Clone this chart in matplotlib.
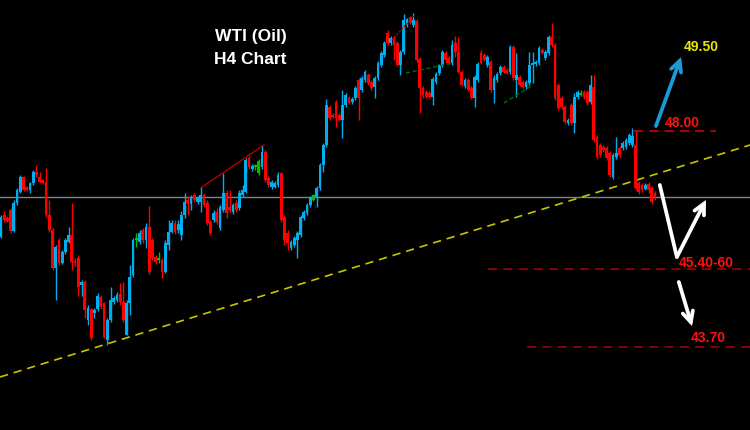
import matplotlib
matplotlib.use("Agg")
import matplotlib.pyplot as plt
import numpy as np

# ---- data (H4 candles) ----
opens = [45.88,46.32,46.26,46.42,46.00,46.56,46.78,47.08,46.88,46.82,
 46.96,47.18,47.08,47.02,46.98,46.32,46.02,45.26,45.82,45.36,
 45.58,45.78,45.92,45.40,45.46,44.92,44.98,44.22,44.44,44.36,
 44.44,44.68,44.56,43.82,44.22,44.58,44.62,44.74,44.58,43.92,
 44.56,45.12,45.82,45.78,46.02,45.82,46.08,45.82,45.48,45.42,
 45.42,45.18,45.72,45.98,46.16,46.02,45.92,46.32,46.62,46.54,
 46.72,46.58,46.58,46.72,46.56,46.18,46.22,46.38,46.06,46.42,
 46.76,46.48,46.38,46.56,46.46,46.72,46.78,47.46,47.24,47.28,
 47.16,47.28,47.58,47.06,46.88,46.88,46.92,47.16,46.28,45.96,
 45.66,45.72,45.82,45.92,46.26,46.36,46.52,46.62,46.66,46.86,
 47.32,47.72,48.48,48.32,48.58,48.32,48.22,48.52,48.66,48.58,
 48.66,49.02,48.82,49.02,49.12,48.98,48.88,49.06,49.32,49.52,
 49.96,49.76,49.86,49.76,49.32,49.58,50.12,50.28,50.12,50.20,
 49.44,48.86,48.78,48.76,48.68,48.98,49.16,49.32,49.56,49.46,
 49.36,49.76,49.58,49.18,48.90,49.02,48.86,48.66,49.02,49.56,
 49.52,49.32,49.38,48.82,49.02,49.16,49.28,49.22,49.18,49.68,
 49.02,49.08,48.98,48.88,48.96,49.32,49.34,49.36,49.62,49.46,
 49.56,49.88,49.72,48.92,48.66,48.48,48.16,48.52,48.16,48.68,
 48.72,48.78,48.78,48.58,48.88,47.88,47.72,47.68,47.66,47.56,
 47.08,47.48,47.66,47.66,47.68,47.76,47.72,47.72,46.96,46.92,
 46.84,46.94,46.86,46.76]

highs = [46.32,46.40,46.30,46.46,46.62,46.86,47.12,47.10,46.90,46.98,
 47.22,47.32,47.18,47.04,47.26,46.62,46.06,45.72,45.86,45.62,
 45.86,46.08,46.56,45.46,45.52,45.02,45.02,44.52,44.46,44.46,
 44.76,44.72,44.58,44.26,44.88,44.70,44.78,44.96,44.98,44.62,
 45.32,45.86,45.96,46.02,46.06,46.16,46.50,45.86,45.52,45.58,
 45.46,45.82,46.22,46.22,46.22,46.22,46.40,46.76,46.70,46.72,
 46.76,46.70,46.88,46.76,46.62,46.22,46.42,46.46,46.52,47.16,
 46.82,46.82,46.56,46.62,46.82,46.92,47.46,47.50,47.34,47.34,
 47.44,47.72,47.62,47.10,47.02,47.00,47.18,47.18,46.32,46.02,
 45.82,45.90,46.00,46.32,46.42,46.56,46.70,46.74,46.90,47.36,
 47.76,48.64,48.52,48.36,48.62,48.36,48.82,48.76,48.70,48.68,
 48.90,49.06,49.10,49.22,49.16,49.02,49.10,49.40,49.60,49.80,
 50.02,49.90,49.90,49.80,49.62,50.34,50.26,50.30,50.36,50.24,
 49.48,48.90,48.82,48.80,49.08,49.18,49.34,49.62,49.60,49.50,
 49.82,49.90,49.88,49.22,49.06,49.06,48.90,49.12,49.38,49.62,
 49.56,49.52,49.42,49.12,49.18,49.32,49.32,49.26,49.72,49.72,
 49.56,49.12,49.02,49.02,49.58,49.58,49.42,49.70,49.66,49.62,
 49.92,50.16,49.76,48.96,48.70,48.52,48.26,48.56,48.76,48.82,
 48.82,48.82,48.82,49.12,49.12,47.92,47.76,47.72,47.70,47.60,
 47.56,47.88,47.70,47.80,47.86,47.96,48.06,48.00,47.00,46.96,
 46.96,46.98,46.90,46.80]

lows = [45.86,46.18,46.18,45.96,45.98,46.52,46.76,46.80,46.80,46.76,
 46.92,47.08,46.96,46.94,46.28,45.98,45.22,44.62,45.32,45.34,
 45.54,45.76,45.22,45.30,44.70,44.70,44.26,44.12,43.82,44.26,
 44.40,44.44,43.86,43.72,44.18,44.54,44.58,44.52,44.18,43.92,
 44.32,45.08,45.68,45.74,45.76,45.66,45.14,45.42,45.34,45.36,
 45.06,45.16,45.62,45.96,45.94,45.96,45.82,46.26,46.32,46.42,
 46.58,46.54,46.38,46.48,46.12,45.92,46.18,46.14,46.02,46.38,
 46.26,46.38,46.34,46.38,46.42,46.68,46.76,47.24,47.20,47.22,
 47.12,47.24,46.98,46.88,46.84,46.86,46.88,46.18,45.72,45.62,
 45.62,45.68,45.46,45.88,46.22,46.32,46.48,46.60,46.48,46.82,
 47.18,47.68,48.22,48.26,48.08,48.20,47.86,48.48,48.54,48.54,
 48.62,48.22,48.78,48.98,48.92,48.82,48.66,49.02,49.28,49.48,
 49.72,49.72,49.42,49.30,49.12,49.54,50.08,50.14,50.08,49.38,
 48.36,48.66,48.66,48.66,48.52,48.94,49.12,49.28,49.36,49.34,
 49.32,49.48,49.16,48.90,48.86,48.80,48.64,48.48,48.98,49.34,
 49.40,49.28,48.78,48.56,48.98,49.12,49.16,49.14,49.14,49.02,
 48.68,48.90,48.86,48.84,48.92,48.96,49.30,49.32,49.54,49.42,
 49.52,49.68,48.62,48.42,48.44,48.14,48.12,48.12,47.96,48.64,
 48.70,48.64,48.52,48.54,47.78,47.44,47.48,47.58,47.42,47.08,
 47.04,47.44,47.48,47.62,47.64,47.72,47.68,46.82,46.74,46.78,
 46.82,46.76,46.54,46.62]

closes = [46.28,46.22,46.20,46.00,46.56,46.82,47.08,46.82,46.82,46.96,
 47.18,47.12,46.98,46.96,46.32,46.02,45.26,45.68,45.36,45.58,
 45.82,45.92,45.38,45.36,44.88,44.98,44.42,44.46,43.86,44.42,
 44.70,44.48,43.88,44.22,44.62,44.66,44.72,44.58,44.22,44.56,
 45.08,45.82,45.82,45.96,45.82,46.08,45.18,45.46,45.38,45.42,
 45.18,45.76,45.98,46.16,45.98,46.14,46.32,46.58,46.56,46.66,
 46.62,46.66,46.72,46.52,46.16,45.96,46.36,46.18,46.48,46.76,
 46.36,46.42,46.52,46.42,46.76,46.82,47.42,47.28,47.30,47.28,
 47.40,47.58,47.02,46.92,46.98,46.96,47.12,46.22,45.82,45.76,
 45.78,45.86,45.96,46.28,46.38,46.52,46.66,46.72,46.86,47.32,
 47.72,48.52,48.26,48.28,48.26,48.22,48.52,48.72,48.56,48.64,
 48.86,48.66,49.06,49.18,48.96,48.86,49.06,49.36,49.56,49.76,
 49.76,49.86,49.72,49.32,49.58,50.22,50.24,50.16,50.22,49.42,
 48.86,48.72,48.68,48.68,49.04,49.14,49.32,49.58,49.42,49.36,
 49.72,49.58,49.18,48.92,49.02,48.82,48.66,49.08,49.34,49.36,
 49.42,49.48,48.82,49.06,49.14,49.28,49.18,49.16,49.68,49.06,
 49.12,48.92,48.88,48.98,49.32,49.36,49.38,49.66,49.56,49.58,
 49.88,49.72,48.66,48.46,48.48,48.18,48.22,48.16,48.68,48.78,
 48.76,48.68,48.56,48.92,47.82,47.48,47.52,47.62,47.46,47.12,
 47.52,47.56,47.52,47.76,47.82,47.92,47.90,46.86,46.78,46.82,
 46.92,46.82,46.58,46.68]

green_marked = [80, 97, 180]   # candles drawn in green (besides dojis)

# analysis lines / levels
level_grey = 46.68
trend_x = [-0.31, 232.5]
trend_y = [43.08, 47.72]
red_trend1_x = [62.4, 81.6]
red_trend1_y = [46.88, 47.72]
red_trend2_x = [121.4, 128.2]
red_trend2_y = [49.82, 50.30]
green_trend1_x = [125.7, 140.3]
green_trend1_y = [49.16, 49.36]
green_trend2_x = [156.1, 165.1]
green_trend2_y = [48.56, 48.92]

levels = [48.00, 45.24, 43.68]
level_start = [196.5, 151.2, 163.3]
level_end = [222.0, 232.5, 232.5]
level_labels = ["48.00", "45.40-60", "43.70"]
label_pos = [(206.1, 48.16), (210.5, 45.37), (214.2, 43.85)]
target_label = "49.50"
target_pos = (212.0, 49.68)

blue_arrow = [(203.3, 48.10), (211.1, 49.48)]
white_path = [(204.5, 46.92), (209.8, 45.48), (218.8, 46.62)]
white_arrow2 = [(210.4, 44.98), (214.5, 44.10)]

title_lines = ["WTI (Oil)", "H4 Chart"]
title_pos = [(77.6, 49.88), (77.3, 49.42)]

# ---- drawing ----
BLUE = "#00aef0"
RED = "#ff0000"
GREEN = "#00c000"

fig = plt.figure(figsize=(7.5, 4.3), dpi=100, facecolor="black")
ax = fig.add_axes([0, 0, 1, 1])
ax.set_facecolor("black")
ax.set_xlim(-0.31, 232.5)
ax.set_ylim(42.02, 50.62)
ax.axis("off")

ax.axhline(level_grey, color="#7d848c", lw=1.0, zorder=1)
ax.plot(trend_x, trend_y, color="#c8c400", lw=1.2, dashes=(5, 3.5), zorder=1)

x = np.arange(len(closes))
o = np.array(opens); c = np.array(closes); h = np.array(highs); l = np.array(lows)
cols = []
for i in range(len(c)):
    if i in green_marked or abs(c[i] - o[i]) < 1e-9:
        cols.append(GREEN)
    elif c[i] > o[i]:
        cols.append(BLUE)
    else:
        cols.append(RED)
ax.vlines(x, l, h, colors=cols, lw=1.0, zorder=3)
bottoms = np.minimum(o, c)
heights = np.maximum(np.abs(c - o), 0.03)
ax.bar(x, heights, bottom=bottoms, width=0.86, color=cols, edgecolor="none", zorder=4)

ax.plot(red_trend1_x, red_trend1_y, color="#b00000", lw=1.0, zorder=5)
ax.plot(red_trend2_x, red_trend2_y, color="#c00000", lw=1.0, ls=(0, (1.5, 1)), zorder=5)
ax.plot(green_trend1_x, green_trend1_y, color="#007000", lw=1.0, dashes=(3, 2), zorder=5)
ax.plot(green_trend2_x, green_trend2_y, color="#007000", lw=1.0, dashes=(3, 2), zorder=5)

lvl_cols = ["#e00000", "#b00000", "#b00000"]
for lv, s, e, col in zip(levels, level_start, level_end, lvl_cols):
    ax.plot([s, e], [lv, lv], color=col, lw=1.1, dashes=(6, 4), zorder=2)

for txt, (tx, ty) in zip(level_labels, label_pos):
    ax.text(tx, ty, txt, color="#ff1010", fontsize=10, fontweight="bold",
            family="Liberation Sans", ha="left", va="center", zorder=6)
ax.text(target_pos[0], target_pos[1], target_label, color="#e8e800", fontsize=10,
        fontweight="bold", family="Liberation Sans", ha="left", va="center", zorder=6)

for txt, (tx, ty) in zip(title_lines, title_pos):
    ax.text(tx, ty, txt, color="white", fontsize=12.5, fontweight="bold",
            family="Liberation Sans", ha="center", va="center", zorder=6)

arrow_kw = dict(arrowstyle="->,head_length=0.75,head_width=0.38", lw=2.7,
                shrinkA=0, shrinkB=0, capstyle="round", joinstyle="miter")
ax.annotate("", xy=blue_arrow[1], xytext=blue_arrow[0],
            arrowprops=dict(color="#1a9ad8", **arrow_kw), zorder=7)
ax.plot([white_path[0][0], white_path[1][0]], [white_path[0][1], white_path[1][1]],
        color="white", lw=2.7, solid_capstyle="round", zorder=7)
ax.annotate("", xy=white_path[2], xytext=white_path[1],
            arrowprops=dict(color="white", **arrow_kw), zorder=7)
ax.annotate("", xy=white_arrow2[1], xytext=white_arrow2[0],
            arrowprops=dict(color="white", **arrow_kw), zorder=7)

fig.savefig("out.png", dpi=100, facecolor="black")
